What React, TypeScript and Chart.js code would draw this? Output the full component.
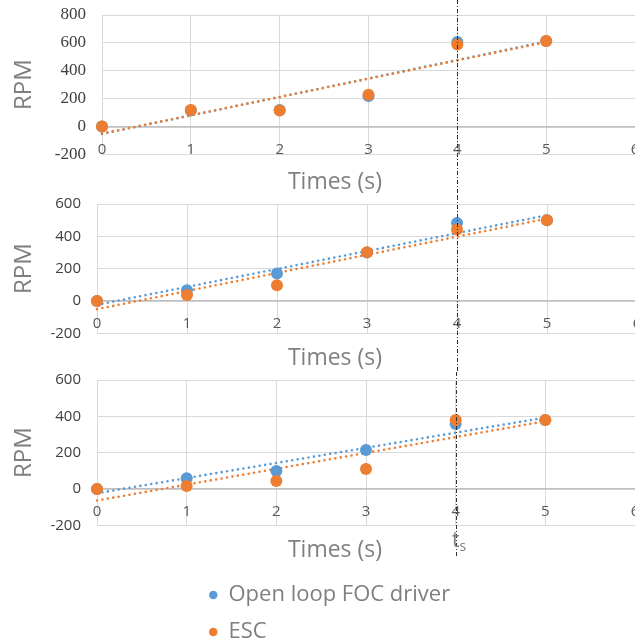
import React, { useEffect, useRef } from "react";
import { Chart, registerables } from "chart.js";
Chart.register(...registerables);

// ---------- data ----------
const times = [0, 1, 2, 3, 4, 5];
const seriesNames = ["Open loop FOC driver", "ESC"];
const seriesColors = ["#5b9bd5", "#ed7d31"];

const focTop = [0, 115, 118, 218, 606, 614];
const escTop = [0, 118, 115, 228, 588, 614];
const focMid = [0, 67, 171, 300, 483, 500];
const escMid = [0, 37, 98, 302, 442, 500];
const focBot = [0, 59, 99, 215, 358, 380];
const escBot = [0, 17, 44, 110, 380, 380];

const yTicksTop = [-200, 0, 200, 400, 600, 800];
const yTicksLower = [-200, 0, 200, 400, 600];
const xTicks = [0, 1, 2, 3, 4, 5, 6];
const switchTime = 4;
const xTitle = "Times (s)";
const yTitle = "RPM";
const switchLabel = ["t", "s"];

// Linear (least squares) trendline, as the spreadsheet does
function trend(xs: number[], ys: number[]) {
  const n = xs.length;
  const mx = xs.reduce((a, b) => a + b, 0) / n;
  const my = ys.reduce((a, b) => a + b, 0) / n;
  let sxy = 0, sxx = 0;
  for (let i = 0; i < n; i++) {
    sxy += (xs[i] - mx) * (ys[i] - my);
    sxx += (xs[i] - mx) * (xs[i] - mx);
  }
  const m = sxy / sxx;
  const b = my - m * mx;
  return [xs[0], xs[n - 1]].map((x) => ({ x, y: b + m * x }));
}

const switchPlugin = {
  id: "switchMarker",
  afterDraw(chart: any, _args: any, o: any) {
    const ctx = chart.ctx;
    const x = Math.round(chart.scales.x.getPixelForValue(o.value)) + 0.5;
    ctx.save();
    ctx.strokeStyle = "#303030";
    ctx.lineWidth = 1;
    ctx.setLineDash([4, 2, 1, 2]);
    ctx.beginPath();
    ctx.moveTo(x, 0);
    ctx.lineTo(x, o.end ?? chart.height);
    ctx.stroke();
    if (o.label) {
      ctx.setLineDash([]);
      ctx.fillStyle = "#7f7f7f";
      const y = chart.chartArea.bottom + 16;
      ctx.font = "21px 'Open Sans'";
      ctx.textAlign = "right";
      ctx.textBaseline = "middle";
      ctx.fillText(o.label[0], x + 3, y);
      ctx.font = "14px 'Open Sans'";
      ctx.textAlign = "left";
      ctx.fillText(o.label[1], x + 3, y + 6);
    }
    ctx.restore();
  },
};

function makeConfig(
  foc: number[],
  esc: number[],
  yTicks: number[],
  p: { padTop: number; right: number; titlePad: number; yFont: any; end?: number; label?: string[]; yWidth: number }
): any {
  const pts = (ys: number[]) => times.map((x, i) => ({ x, y: ys[i] }));
  const trendDs = (ys: number[], i: number) => ({
    type: "line",
    data: trend(times, ys),
    borderColor: seriesColors[i],
    borderWidth: 2.6,
    borderDash: [0, 5.5],
    borderCapStyle: "round",
    pointRadius: 0,
    fill: false,
    clip: false,
    order: 4 - i,
  });
  const ptDs = (ys: number[], i: number) => ({
    type: "scatter",
    label: seriesNames[i],
    data: pts(ys),
    backgroundColor: seriesColors[i],
    borderWidth: 0,
    pointRadius: 6,
    clip: false,
    order: 2 - i,
  });
  return {
    type: "scatter",
    data: {
      datasets: [trendDs(foc, 0), trendDs(esc, 1), ptDs(foc, 0), ptDs(esc, 1)],
    },
    plugins: [switchPlugin],
    options: {
      responsive: false,
      animation: false,
      devicePixelRatio: 1,
      layout: { padding: { top: p.padTop, left: 0, right: 0, bottom: 0 } },
      scales: {
        x: {
          type: "linear",
          position: { y: 0 },
          min: xTicks[0],
          max: xTicks[xTicks.length - 1],
          ticks: {
            stepSize: xTicks[1] - xTicks[0],
            padding: 14,
            color: "#595959",
            font: { family: "'Open Sans'", size: 15 },
          },
          grid: { color: "#d9d9d9", lineWidth: 1, drawTicks: false },
          border: { display: true, color: "#bfbfbf", width: 1.5 },
        },
        y: {
          type: "linear",
          position: "left",
          min: yTicks[0],
          max: yTicks[yTicks.length - 1],
          ticks: {
            stepSize: yTicks[1] - yTicks[0],
            padding: 16,
            color: "#404040",
            font: p.yFont,
          },
          grid: {
            drawTicks: false,
            color: (c: any) => (c.tick && c.tick.value === 0 ? "#bfbfbf" : "#d9d9d9"),
            lineWidth: (c: any) => (c.tick && c.tick.value === 0 ? 1.5 : 1),
          },
          border: { display: false },
          title: {
            display: true,
            text: yTitle,
            color: "#7f7f7f",
            font: { family: "'Open Sans'", size: 24 },
            padding: { top: 10, bottom: 0 },
          },
          afterFit: (s: any) => {
            s.width = p.yWidth;
            s.paddingTop = 0;
            s.paddingBottom = 0;
          },
        },
        y2: {
          type: "linear",
          position: "right",
          display: true,
          ticks: { display: false },
          grid: { display: false, drawOnChartArea: false },
          border: { display: false },
          afterFit: (s: any) => {
            s.width = p.right;
            s.paddingTop = 0;
            s.paddingBottom = 0;
          },
        },
      },
      plugins: {
        legend: { display: false },
        tooltip: { enabled: false },
        title: {
          display: true,
          position: "bottom",
          text: xTitle,
          color: "#7f7f7f",
          font: { family: "'Open Sans'", size: 23, weight: "normal" },
          padding: { top: p.titlePad, bottom: 0 },
        },
        switchMarker: { value: switchTime, end: p.end, label: p.label },
      },
    },
  };
}

const legendConfig: any = {
  type: "scatter",
  data: {
    datasets: seriesNames.map((n, i) => ({
      label: n,
      data: [],
      backgroundColor: seriesColors[i],
      borderColor: seriesColors[i],
      borderWidth: 0,
      pointStyle: "circle",
    })),
  },
  options: {
    responsive: false,
    animation: false,
    devicePixelRatio: 1,
    layout: { padding: { left: 194, top: 5 } },
    scales: { x: { display: false }, y: { display: false } },
    plugins: {
      tooltip: { enabled: false },
      legend: {
        position: "left",
        align: "start",
        labels: {
          usePointStyle: true,
          pointStyle: "circle",
          boxWidth: 6,
          boxHeight: 6,
          pointStyleWidth: 8.5,
          padding: 15,
          color: "#7f7f7f",
          font: { family: "'Open Sans'", size: 22 },
        },
      },
    },
  },
};

export default function App() {
  const r1 = useRef<HTMLCanvasElement>(null);
  const r2 = useRef<HTMLCanvasElement>(null);
  const r3 = useRef<HTMLCanvasElement>(null);
  const r4 = useRef<HTMLCanvasElement>(null);

  useEffect(() => {
    const sans = { family: "'Open Sans'", size: 15 };
    const charts = [
      new Chart(
        r1.current!,
        makeConfig(focTop, escTop, yTicksTop, {
          padTop: 15,
          right: 35,
          titlePad: 14,
          yWidth: 102,
          yFont: { family: "'Liberation Serif'", size: 17 },
        })
      ),
      new Chart(
        r2.current!,
        makeConfig(focMid, escMid, yTicksLower, {
          padTop: 8,
          right: 33,
          titlePad: 11,
          yWidth: 97,
          yFont: sans,
        })
      ),
      new Chart(
        r3.current!,
        makeConfig(focBot, escBot, yTicksLower, {
          padTop: 8,
          right: 35,
          titlePad: 11,
          yWidth: 97,
          yFont: sans,
          end: 186,
          label: switchLabel,
        })
      ),
      new Chart(r4.current!, legendConfig),
    ];
    return () => charts.forEach((c) => c.destroy());
  }, []);

  const cs = (top: number): React.CSSProperties => ({ position: "absolute", left: 0, top });
  return (
    <div
      style={{
        position: "fixed",
        left: 0,
        top: 0,
        width: 635,
        height: 644,
        overflow: "hidden",
        background: "#ffffff",
      }}
    >
      <canvas ref={r1} width={670} height={196} style={cs(0)} />
      <canvas ref={r2} width={670} height={176} style={cs(196)} />
      <canvas ref={r3} width={670} height={192} style={cs(372)} />
      <canvas ref={r4} width={1000} height={120} style={cs(564)} />
    </div>
  );
}
